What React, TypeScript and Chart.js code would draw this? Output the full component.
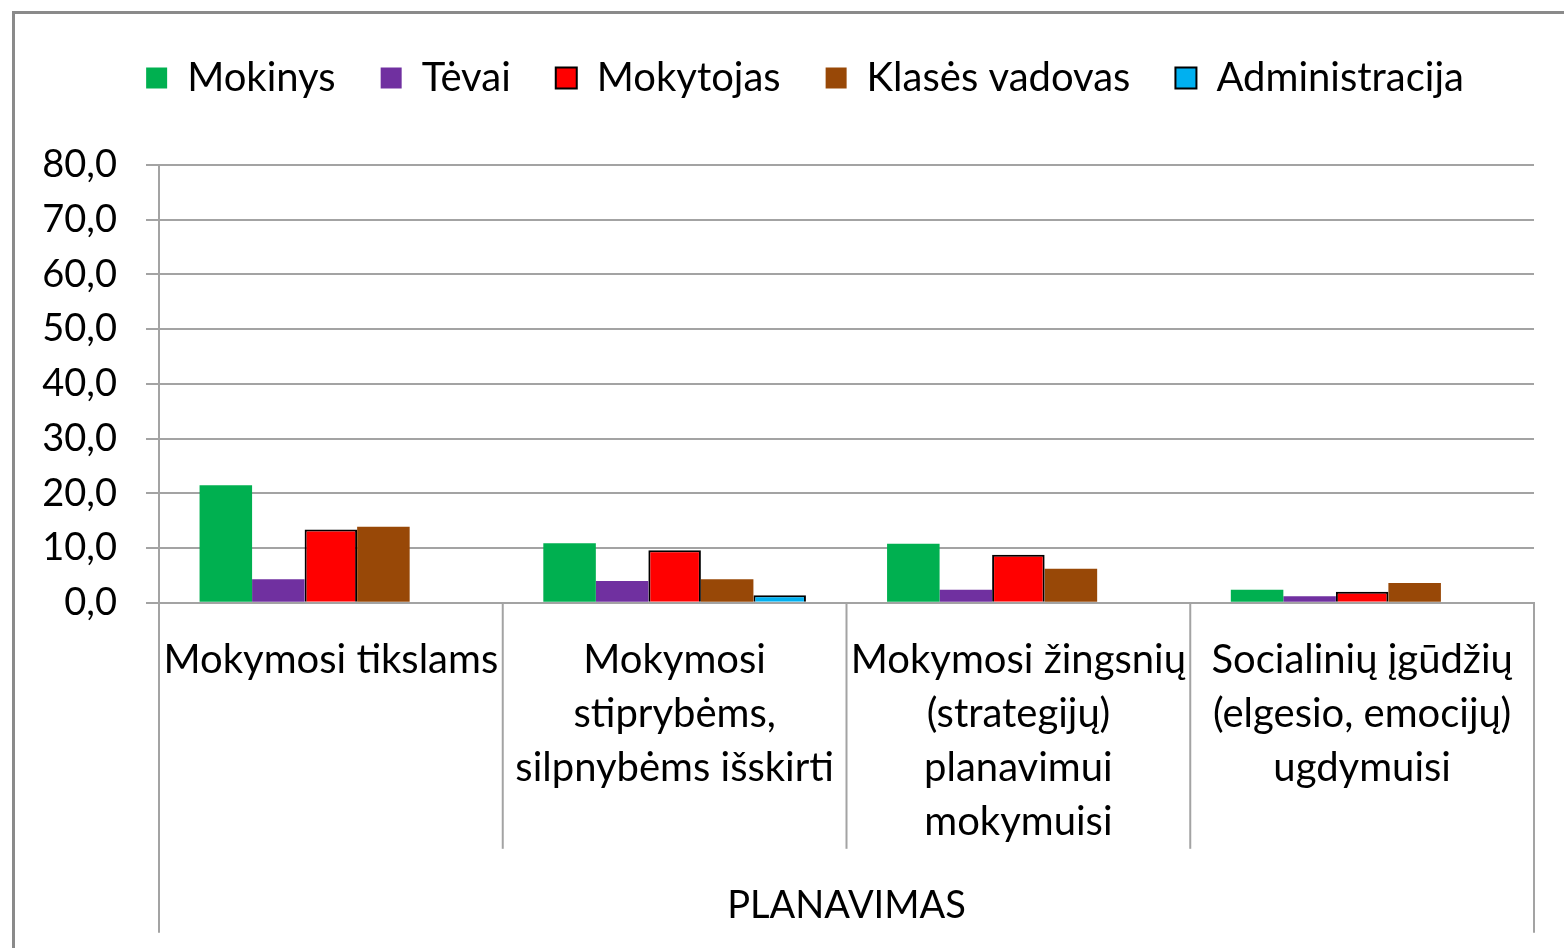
import React, { useEffect, useRef } from "react";
import { Chart, registerables } from "chart.js";

Chart.register(...registerables);

const categories: string[][] = [
  ["Mokymosi tikslams"],
  ["Mokymosi", "stiprybėms,", "silpnybėms išskirti"],
  ["Mokymosi žingsnių", "(strategijų)", "planavimui", "mokymuisi"],
  ["Socialinių įgūdžių", "(elgesio, emocijų)", "ugdymuisi"],
];
const groupTitle = "PLANAVIMAS";

const mokinys = [21.5, 10.9, 10.8, 2.4];
const tevai = [4.3, 4.0, 2.4, 1.2];
const mokytojas = [13.4, 9.6, 8.8, 2.0];
const klasesVadovas = [13.9, 4.3, 6.2, 3.6];
const administracija = [0, 1.4, 0, 0];

const seriesNames = ["Mokinys", "Tėvai", "Mokytojas", "Klasės vadovas", "Administracija"];
const seriesColors = ["#00B050", "#7030A0", "#FF0000", "#984807", "#00B0F0"];
const seriesBorders = [0, 0, 2, 0, 2];

const yMin = 0;
const yMax = 80;
const yStep = 10;

const FONT = "Lato";
const GRID = "#a3a3a3";

const separatorPlugin = {
  id: "separators",
  afterDraw(chart: any) {
    const x = chart.scales.x;
    const ctx = chart.ctx;
    const n = chart.data.labels.length;
    const bottom = chart.chartArea.bottom;
    ctx.save();
    ctx.strokeStyle = GRID;
    ctx.lineWidth = 2;
    for (let i = 0; i <= n; i++) {
      let px: number;
      if (i === 0) px = x.left;
      else if (i === n) px = x.right;
      else px = (x.getPixelForValue(i - 1) + x.getPixelForValue(i)) / 2;
      const len = i === 0 || i === n ? 330 : 246;
      ctx.beginPath();
      ctx.moveTo(px, bottom);
      ctx.lineTo(px, bottom + len);
      ctx.stroke();
    }
    ctx.restore();
  },
};

const legendShiftPlugin = {
  id: "legendShift",
  afterLayout(chart: any) {
    const lg = chart.legend;
    if (!lg) return;
    const dx = 23;
    const dy = -57;
    lg.left += dx;
    lg.right += dx;
    lg.top += dy;
    lg.bottom += dy;
  },
};

export default function App() {
  const ref = useRef<HTMLCanvasElement | null>(null);
  useEffect(() => {
    if (!ref.current) return;
    const all = [mokinys, tevai, mokytojas, klasesVadovas, administracija];
    const chart = new Chart(ref.current, {
      type: "bar",
      data: {
        labels: categories,
        datasets: all.map((d, i) => ({
          label: seriesNames[i],
          data: d,
          backgroundColor: seriesColors[i],
          borderColor: "#000000",
          borderWidth: seriesBorders[i],
          categoryPercentage: 0.764,
          barPercentage: 1,
        })),
      },
      plugins: [separatorPlugin, legendShiftPlugin],
      options: {
        animation: false,
        responsive: false,
        maintainAspectRatio: false,
        layout: { padding: { left: 30, right: 30, top: 70, bottom: 16 } },
        plugins: {
          tooltip: { enabled: false },
          legend: {
            position: "top",
            labels: {
              boxWidth: 21,
              boxHeight: 21,
              padding: 45,
              color: "#000",
              font: { family: FONT, size: 40 },
            },
          },
        },
        scales: {
          x: {
            grid: { display: false, drawTicks: false },
            border: { display: true, color: GRID, width: 2 },
            ticks: {
              color: "#000",
              font: { family: FONT, size: 40, lineHeight: 1.35 },
              maxRotation: 0,
              autoSkip: false,
              padding: 30,
            },
            title: {
              display: true,
              text: groupTitle,
              color: "#000",
              font: { family: FONT, size: 38, lineHeight: 1.4 },
              padding: { top: 0, bottom: 0 },
            },
          },
          y: {
            min: yMin,
            max: yMax,
            afterFit: (s: any) => {
              s.width = 129;
            },
            ticks: {
              stepSize: yStep,
              color: "#000",
              font: { family: FONT, size: 38 },
              padding: 29,
              callback: (v: any) => Number(v).toFixed(1).replace(".", ","),
            },
            grid: { color: GRID, lineWidth: 2, tickLength: 13 },
            border: { display: true, color: GRID, width: 2 },
          },
        },
      },
    });
    return () => chart.destroy();
  }, []);
  return (
    <div style={{ position: "fixed", left: 0, top: 0, width: 1564, height: 948, background: "#fff", overflow: "hidden" }}>
      <div
        style={{
          position: "absolute",
          left: 12,
          top: 11,
          width: 1600,
          height: 1000,
          borderTop: "3px solid #8a8a8a",
          borderLeft: "3px solid #8a8a8a",
        }}
      />
      <canvas ref={ref} width={1564} height={948} style={{ position: "absolute", left: 0, top: 0 }} />
    </div>
  );
}
